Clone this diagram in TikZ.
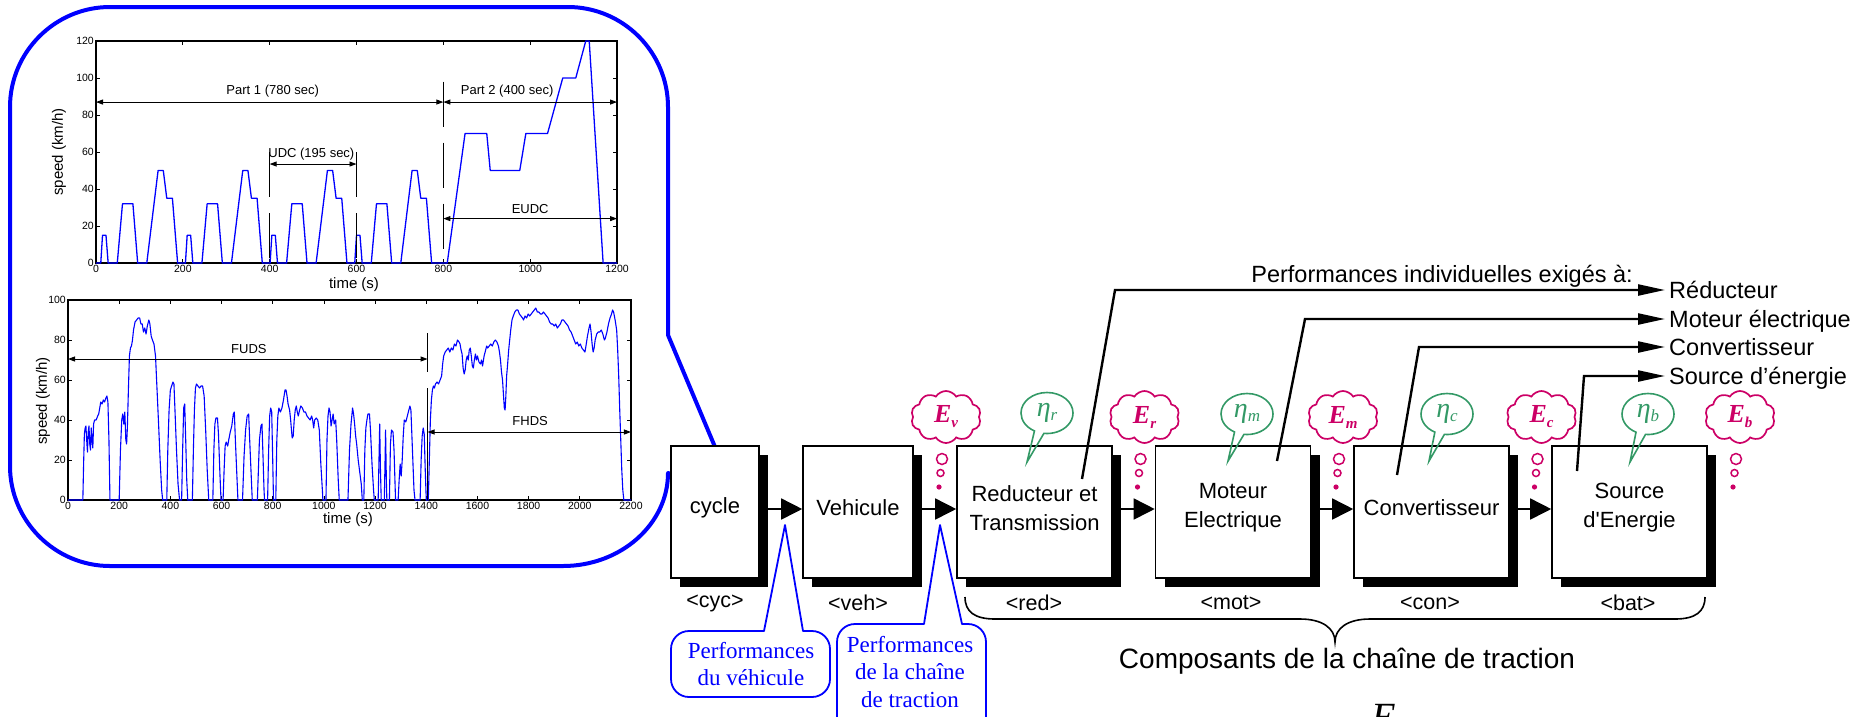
\documentclass[tikz,border=0pt]{standalone}
\usepackage{fontspec}
\setmainfont{Liberation Sans}
\newfontfamily\timesf{Liberation Serif}
\usetikzlibrary{arrows.meta,shapes.symbols,shapes.callouts,shadows}
\definecolor{cbBlue}{RGB}{0,0,255}
\definecolor{cbMag}{RGB}{204,0,102}
\definecolor{cbGreen}{RGB}{51,153,102}
\newcommand\Elab[1]{E\raisebox{-5pt}{\fontsize{15}{15}\selectfont #1}}
\newcommand\EtaLab[1]{η\raisebox{-4pt}{\fontsize{17}{17}\selectfont #1}}
\begin{document}
\begin{tikzpicture}[x=1pt,y=-1pt,
  blk/.style={draw=black, line width=1.6pt, fill=white, minimum height=132pt, inner sep=0pt,
     drop shadow={shadow xshift=9pt, shadow yshift=-9pt, fill=black, opacity=1}},
  blktxt/.style={font=\fontsize{22}{29}\selectfont, align=center, inner sep=0pt},
  taglab/.style={font=\fontsize{21.5}{24}\selectfont, inner sep=0pt},
  flowarrow/.style={line width=1.6pt, -{Triangle[length=21pt,width=21pt]}},
  perfarrow/.style={line width=2.4pt, -{Triangle[length=27pt,width=11pt]}},
  outtxt/.style={font=\fontsize{23.5}{28}\selectfont, anchor=west, inner xsep=4pt, inner ysep=0pt, text height=17pt, text depth=0pt},
  thoughtcloud/.style={cloud, cloud puffs=10, cloud puff arc=115, aspect=1.4, draw=cbMag, line width=1.7pt,
     minimum width=70pt, minimum height=52pt, inner sep=0pt, text=cbMag,
     font=\timesf\bfseries\itshape\fontsize{26}{26}\selectfont},
  bubdot/.style={draw=cbMag, line width=1.5pt},
  etabub/.style={ellipse callout, draw=cbGreen, line width=1.6pt, minimum width=52pt, minimum height=41pt,
     inner sep=0pt, callout pointer arc=22, text=cbGreen, font=\timesf\itshape\fontsize{28}{28}\selectfont},
  bluebox/.style={draw=cbBlue, line width=1.8pt, line join=round},
  bluetxt/.style={text=cbBlue, font=\timesf\fontsize{23}{26.5}\selectfont, align=center, inner sep=0pt},
  axframe/.style={line width=1.1pt},
  speedcurve/.style={cbBlue, line width=1.3pt, line join=round},
  tickmark/.style={line width=0.8pt},
  ticklab/.style={font=\fontsize{10.5}{12}\selectfont, inner sep=1pt},
  axlab/.style={font=\fontsize{15}{17}\selectfont, inner sep=0pt},
  annot/.style={font=\fontsize{13}{15}\selectfont, inner sep=0pt},
  dimarrow/.style={line width=0.9pt, {Triangle[length=7pt,width=5pt]}-{Triangle[length=7pt,width=5pt]}},
  guideline/.style={line width=0.9pt, dash pattern=on 45pt off 16pt},
]
\useasboundingbox (0,0) rectangle (1863,716);

% ---------------- big blue callout ----------------
\coordinate (ptip) at (736,497);
\draw[bluebox, line width=4pt] (110,7) -- (568,7) .. controls (623,7) and (668,52) .. (668,107)
  -- (668,335) -- (ptip) -- (668,473) .. controls (668,524) and (621,566) .. (563,566)
  -- (110,566) .. controls (55,566) and (10,521) .. (10,466) -- (10,107)
  .. controls (10,52) and (55,7) .. (110,7) -- cycle;

% ---------------- top plot (NEDC) ----------------
\begin{scope}[shift={(96,263)}, x=0.434167pt, y=1.85pt]
  \draw[axframe] (0,0) rectangle (1200,120);
  \foreach \t in {0,200,...,1200} {
    \draw[tickmark] (\t,0) -- ++(0pt,4pt);
    \draw[tickmark] (\t,120) -- ++(0pt,-4pt);
    \node[ticklab, below=1pt] (ax\t) at (\t,0) {\t};
  }
  \foreach \v in {0,20,...,120} {
    \draw[tickmark] (0,\v) -- ++(4pt,0pt);
    \draw[tickmark] (1200,\v) -- ++(-4pt,0pt);
    \node[ticklab, left=1pt] (ay\v) at (0,\v) {\v};
  }
  \draw[speedcurve] plot coordinates {
    (0,0) (11,0) (15,15) (23,15) (28,0) (49,0) (61,32) (85,32) (96,0) (117,0) (143,50) (155,50) (163,35) (176,35) (188,0) (195,0)
    (206,0) (210,15) (218,15) (223,0) (244,0) (256,32) (280,32) (291,0) (312,0) (338,50) (350,50) (358,35) (371,35) (383,0) (390,0)
    (401,0) (405,15) (413,15) (418,0) (439,0) (451,32) (475,32) (486,0) (507,0) (533,50) (545,50) (553,35) (566,35) (578,0) (585,0)
    (596,0) (600,15) (608,15) (613,0) (634,0) (646,32) (670,32) (681,0) (702,0) (728,50) (740,50) (748,35) (761,35) (773,0) (780,0)
    (809,0) (850,70) (900,70) (908,50) (976,50) (990,70) (1040,70) (1075,100) (1105,100) (1128,120) (1136,120) (1168,0) (1200,0)};
  \draw[guideline] (800,98) -- (800,0);
  \draw[guideline] (400,60) -- (400,2);
  \draw[guideline] (600,60) -- (600,2);
  \draw[dimarrow] (0,87) -- (800,87);
  \draw[dimarrow] (800,87) -- (1200,87);
  \draw[dimarrow] (400,53.5) -- (600,53.5);
  \draw[dimarrow] (800,24) -- (1200,24);
  \node[annot] (p1) at (407,93) {Part 1 (780 sec)};
  \node[annot] (p2) at (947,93) {Part 2 (400 sec)};
  \node[annot] (udc) at (496,59) {UDC (195 sec)};
  \node[annot] (eudc) at (1000,29) {EUDC};
\end{scope}
\node[axlab, rotate=90] (ylab1) at (59,152) {speed (km/h)};
\node[axlab] (xlab1) at (354,285) {time (s)};

% ---------------- bottom plot (FUDS/FHDS) ----------------
\begin{scope}[shift={(68,500)}, x=0.255909pt, y=2pt]
  \draw[axframe] (0,0) rectangle (2200,100);
  \foreach \t in {0,200,...,2200} {
    \draw[tickmark] (\t,0) -- ++(0pt,4pt);
    \draw[tickmark] (\t,100) -- ++(0pt,-4pt);
    \node[ticklab, below=1pt] (bx\t) at (\t,0) {\t};
  }
  \foreach \v in {0,20,...,100} {
    \draw[tickmark] (0,\v) -- ++(4pt,0pt);
    \draw[tickmark] (2200,\v) -- ++(-4pt,0pt);
    \node[ticklab, left=1pt] (by\v) at (0,\v) {\v};
  }
  \draw[speedcurve, line width=1.1pt] plot coordinates {
   (0,0) (58,0) (61,18) (64,33) (67,36) (70,37) (73,30) (76,24) (79,34) (82,37) (85,28) (88,25) (91,36) (94,30) (97,26) (100,38) (104,40) (110,40) (116,42) (120,43) (124,46) (128,49) (133,48) (138,50) (143,49) (148,51) (152,52) (156,49) (160,30) (164,0) (200,0) (205,25) (210,40) (214,43) (218,38) (222,44) (226,30) (229,28) (232,36) (236,55) (240,72) (244,76) (248,77) (252,80) (256,85) (262,89) (268,90) (274,91) (280,91) (285,88) (290,88) (295,84) (300,86) (305,83) (310,87) (316,90) (320,88) (325,82) (330,80) (336,78) (342,72) (348,55) (354,38) (360,20) (366,5) (370,0) (386,0) (390,25) (395,45) (400,55) (405,57) (410,59) (414,58) (418,45) (424,25) (430,8) (436,0) (444,0) (448,25) (452,46) (456,48) (460,30) (464,10) (468,0) (486,0) (490,25) (494,45) (498,56) (502,58) (508,57) (514,56) (520,57) (526,57) (532,52) (538,35) (544,15) (550,0) (566,0) (570,25) (574,38) (578,41) (584,41) (588,33) (594,12) (598,0) (606,0) (610,15) (614,27) (618,29) (624,27) (628,30) (634,34) (640,37) (646,43) (650,44) (654,30) (660,12) (664,0) (682,0) (688,22) (694,35) (700,42) (706,43) (710,30) (716,12) (720,0) (740,0) (744,15) (748,30) (754,37) (758,38) (762,22) (766,5) (768,0) (780,0) (784,25) (788,42) (792,46) (796,44) (800,20) (803,0) (812,0) (816,30) (820,42) (824,46) (830,44) (836,46) (842,50) (848,55) (852,55) (856,52) (860,48) (866,45) (870,40) (876,31) (880,32) (884,40) (888,45) (892,47) (896,44) (900,42) (905,45) (910,47) (916,46) (922,44) (928,44) (934,42) (940,41) (946,40) (952,42) (956,40) (960,36) (964,40) (970,41) (976,40) (982,35) (988,18) (994,5) (996,0) (1008,0) (1012,30) (1016,42) (1020,46) (1024,44) (1028,37) (1032,40) (1036,43) (1040,38) (1046,40) (1050,30) (1056,10) (1060,0) (1094,0) (1100,25) (1106,38) (1112,46) (1116,43) (1120,38) (1124,32) (1128,28) (1134,20) (1140,14) (1146,8) (1150,0) (1156,0) (1160,25) (1164,36) (1168,40) (1172,43) (1178,43) (1182,35) (1188,18) (1194,5) (1197,0) (1212,0) (1216,25) (1218,38) (1221,15) (1224,0) (1236,0) (1239,20) (1241,35) (1244,10) (1246,0) (1256,0) (1260,28) (1264,35) (1270,34) (1274,25) (1278,8) (1280,0) (1290,0) (1294,10) (1298,18) (1302,12) (1306,20) (1310,32) (1314,40) (1320,39) (1326,42) (1332,45) (1336,47) (1340,45) (1346,25) (1352,5) (1356,0) (1376,0) (1380,20) (1384,32) (1388,36) (1392,33) (1396,15) (1400,0) (1408,0)
   (1412,20) (1416,40) (1420,50) (1424,55) (1428,57) (1432,56) (1436,58) (1442,59) (1448,58) (1454,60) (1460,62) (1464,68) (1468,72) (1474,74) (1480,75) (1486,76) (1492,74) (1498,76) (1504,75) (1510,78) (1516,77) (1522,80) (1528,79) (1532,78) (1536,75) (1540,73) (1544,66) (1548,63) (1552,65) (1556,70) (1560,72) (1564,70) (1568,75) (1572,76) (1576,72) (1580,67) (1584,66) (1588,70) (1592,73) (1596,70) (1600,72) (1606,69) (1612,68) (1616,70) (1620,67) (1626,72) (1632,75) (1636,77) (1640,76) (1646,77) (1652,78) (1658,77) (1664,79) (1670,80) (1676,79) (1682,77) (1686,74) (1690,70) (1694,64) (1698,60) (1702,52) (1705,46) (1708,45) (1711,52) (1714,62) (1718,68) (1722,75) (1726,80) (1730,85) (1735,90) (1740,92) (1746,94) (1752,95) (1758,95) (1764,93) (1770,92) (1776,91) (1780,90) (1786,92) (1792,91) (1798,93) (1804,92) (1810,93) (1816,94) (1822,95) (1828,96) (1834,94) (1840,94) (1846,93) (1852,93) (1858,94) (1864,93) (1870,92) (1876,91) (1882,89) (1888,88) (1894,88) (1900,87) (1906,88) (1912,86) (1918,87) (1924,88) (1930,90) (1936,90) (1942,89) (1948,88) (1954,87) (1960,85) (1966,84) (1972,82) (1978,80) (1984,78) (1990,79) (1996,77) (2002,78) (2008,76) (2014,75) (2020,74) (2024,77) (2030,82) (2036,86) (2040,88) (2044,84) (2048,78) (2052,74) (2056,76) (2060,80) (2066,83) (2072,84) (2078,84) (2084,85) (2090,83) (2096,80) (2100,81) (2106,84) (2112,88) (2118,91) (2124,93) (2128,95) (2132,94) (2138,90) (2144,85) (2148,75) (2152,62) (2156,45) (2160,30) (2164,15) (2168,5) (2172,0) (2200,0)};
  \draw[line width=0.9pt] (1405,83.5) -- (1405,64);
  \draw[line width=0.9pt] (1405,56) -- (1405,0);
  \draw[dimarrow] (0,70.5) -- (1405,70.5);
  \draw[dimarrow] (1405,34) -- (2200,34);
  \node[annot] (fuds) at (707,75.5) {FUDS};
  \node[annot] (fhds) at (1806,39.5) {FHDS};
\end{scope}
\node[axlab, rotate=90] (ylab2) at (43,401) {speed (km/h)};
\node[axlab] (xlab2) at (348,520) {time (s)};

% ---------------- blocks ----------------
\node[blk, minimum width=88pt] (cyc) at (715,512) {};
\node[blk, minimum width=110pt] (veh) at (858,512) {};
\node[blk, minimum width=155pt] (red) at (1034.5,512) {};
\node[blk, minimum width=155pt] (mot) at (1233,512) {};
\node[blk, minimum width=155pt] (con) at (1431.5,512) {};
\node[blk, minimum width=155pt] (src) at (1629.5,512) {};

\node[blktxt] (cyct) at ([yshift=4pt]cyc.center) {cycle};
\node[blktxt] (veht) at ([yshift=4pt]veh.center) {Vehicule};
\node[blktxt] (redt) at ([yshift=4pt]red.center) {Reducteur et\\Transmission};
\node[blktxt] (mott) at ([yshift=4pt]mot.center) {Moteur\\Electrique};
\node[blktxt] (cont) at ([yshift=4pt]con.center) {Convertisseur};
\node[blktxt] (srct) at ([yshift=4pt]src.center) {Source\\d\textquotesingle Energie};

\node[taglab] (cycl) at (715,603) {<cyc>};
\node[taglab] (vehl) at (858,603) {<veh>};
\node[taglab] (redl) at (1034,603) {<red>};
\node[taglab] (motl) at (1231,603) {<mot>};
\node[taglab] (conl) at (1430,603) {<con>};
\node[taglab] (srcl) at (1628,603) {<bat>};

\draw[flowarrow] ([yshift=3pt]cyc.east) -- ([yshift=3pt]veh.west);
\draw[flowarrow] ([yshift=3pt]veh.east) -- ([yshift=3pt]red.west);
\draw[flowarrow] ([yshift=3pt]red.east) -- ([yshift=3pt]mot.west);
\draw[flowarrow] ([yshift=3pt]mot.east) -- ([yshift=3pt]con.west);
\draw[flowarrow] ([yshift=3pt]con.east) -- ([yshift=3pt]src.west);

% ---------------- brace ----------------
\draw[line width=1.6pt] (965,597) .. controls (965,612) and (975,619) .. (995,619) -- (1300,619)
  .. controls (1322,619) and (1335,628) .. (1335,642) .. controls (1335,628) and (1348,619) .. (1370,619)
  -- (1675,619) .. controls (1695,619) and (1705,612) .. (1705,597);
\node[font=\fontsize{28}{32}\selectfont, inner sep=0pt] (comp) at (1347,661) {Composants de la chaîne de traction};
\node[font=\timesf\itshape\fontsize{40}{40}\selectfont, anchor=base west, inner sep=0pt] (Ebig) at (1371,730) {E};

% ---------------- individual performances ----------------
\node[font=\fontsize{23.5}{28}\selectfont, anchor=east, inner sep=0pt] (pih) at (1633,276) {Performances individuelles exigés à:};
\node[outtxt] (tR) at (1665,290) {Réducteur};
\node[outtxt] (tM) at (1665,319) {Moteur électrique};
\node[outtxt] (tC) at (1665,347) {Convertisseur};
\node[outtxt] (tS) at (1665,376) {Source d’énergie};
\coordinate (sR) at (1082,479); \coordinate (cR) at (1115,290);
\coordinate (sM) at (1277,461); \coordinate (cM) at (1305,319);
\coordinate (sC) at (1397,475); \coordinate (cC) at (1419,347);
\coordinate (sS) at (1577,471); \coordinate (cS) at (1584,376);
\draw[perfarrow] (sR) -- (cR) -- (tR.west);
\draw[perfarrow] (sM) -- (cM) -- (tM.west);
\draw[perfarrow] (sC) -- (cC) -- (tC.west);
\draw[perfarrow] (sS) -- (cS) -- (tS.west);

% ---------------- energy clouds ----------------
\node[thoughtcloud] (Ev) at (946,417) {\Elab{v}};
\node[thoughtcloud] (Er) at (1144.5,417) {\Elab{r}};
\node[thoughtcloud] (Em) at (1343,417) {\Elab{m}};
\node[thoughtcloud] (Ec) at (1541.5,417) {\Elab{c}};
\node[thoughtcloud] (Eb) at (1740,417) {\Elab{b}};
\foreach \g in {935,1133.5,1332,1530.5,1729} {
  \draw[bubdot] (\g+7,459) circle (5.5pt);
  \draw[bubdot] (\g+5.5,473) circle (3.5pt);
  \fill[cbMag] (\g+4,487) circle (2.6pt);
}

% ---------------- efficiency bubbles ----------------
\coordinate (pr) at (1027,462);
\coordinate (pm) at (1228,461);
\coordinate (pc) at (1429,461);
\coordinate (pb) at (1630,462);
\node[etabub, callout absolute pointer={(pr)}] (etr) at (1047,413) {\EtaLab{r}};
\node[etabub, callout absolute pointer={(pm)}] (etm) at (1247,414) {\EtaLab{m}};
\node[etabub, callout absolute pointer={(pc)}] (etc) at (1447,414) {\EtaLab{c}};
\node[etabub, callout absolute pointer={(pb)}] (etb) at (1648,414) {\EtaLab{b}};

% ---------------- blue callouts ----------------
\coordinate (tipA) at (785,525);
\coordinate (tipB) at (940,525);
\draw[bluebox] (689,631) -- (764,631) -- (tipA) -- (803,631) -- (812,631)
  .. controls (822,631) and (830,639) .. (830,649) -- (830,679)
  .. controls (830,689) and (822,697) .. (812,697) -- (689,697)
  .. controls (679,697) and (671,689) .. (671,679) -- (671,649)
  .. controls (671,639) and (679,631) .. (689,631) -- cycle;
\draw[bluebox] (855,624) -- (924,624) -- (tipB) -- (962,624) -- (968,624)
  .. controls (978,624) and (986,632) .. (986,642) -- (986,722)
  .. controls (986,732) and (978,740) .. (968,740) -- (855,740)
  .. controls (845,740) and (837,732) .. (837,722) -- (837,642)
  .. controls (837,632) and (845,624) .. (855,624) -- cycle;
\node[bluetxt] (pv) at (751,664) {Performances\\du véhicule};
\node[bluetxt, font=\timesf\fontsize{23}{27.5}\selectfont] (pct) at (910,672) {Performances\\de la chaîne\\de traction};
\end{tikzpicture}
\end{document}
